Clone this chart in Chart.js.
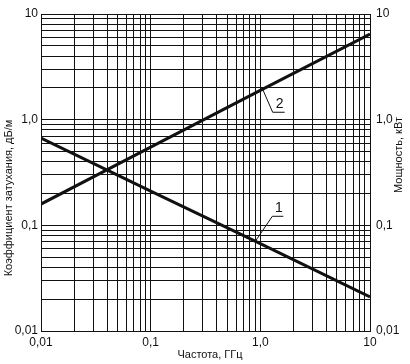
<!DOCTYPE html>
<html>
<head>
<meta charset="utf-8">
<script src="https://cdn.jsdelivr.net/npm/chart.js@4/dist/chart.umd.min.js"></script>
<style>
  html, body { margin: 0; padding: 0; background: #fff; }
  canvas { display: block; }
</style>
</head>
<body>
<canvas id="chart" width="410" height="364"></canvas>
<script>
// frequency, GHz
const freq = [0.01, 0.1, 1, 10];
// curve 1: attenuation, dB/m (left axis)
const attenuation = [0.67, 0.211, 0.067, 0.021];
// curve 2: power, kW (right axis)
const power = [0.159, 0.55, 1.89, 6.47];

const decades = [0.01, 0.1, 1, 10];
const xTickLabels = ['0,01', '0,1', '1,0', '10'];
const yTickLabels = ['0,01', '0,1', '1,0', '10'];

const xTitle = 'Частота, ГГц';
const yTitle = 'Коэффициент затухания, дБ/м';
const y2Title = 'Мощность, кВт';

const INK = '#111';
const FONT = 'Liberation Sans, Arial, sans-serif';

// all 1..9 x 10^n values, for the log grid
function logGrid(min, max) {
  const out = [];
  for (let e = Math.log10(min); e < Math.log10(max); e++) {
    for (let m = 1; m < 10; m++) out.push(m * Math.pow(10, e));
  }
  out.push(max);
  return out;
}

function labelFor(v, labels) {
  const i = decades.findIndex((d) => Math.abs(d - v) / d < 1e-6);
  return i >= 0 ? labels[i] : '';
}

// value on a straight log-log line at frequency f
function lineValue(series, f) {
  for (let i = 0; i < freq.length - 1; i++) {
    if (f >= freq[i] && f <= freq[i + 1]) {
      const t = (Math.log10(f) - Math.log10(freq[i])) / (Math.log10(freq[i + 1]) - Math.log10(freq[i]));
      return Math.pow(10, Math.log10(series[i]) + t * (Math.log10(series[i + 1]) - Math.log10(series[i])));
    }
  }
  return series[series.length - 1];
}

const curveMarks = [
  { text: '2', series: power, axis: 'y2', at: 1.05, dx: 10, dy: 23, under: 12 },
  { text: '1', series: attenuation, axis: 'y', at: 0.9, dx: 17, dy: -25, under: 11 },
];

const annotations = {
  id: 'annotations',
  afterDatasetsDraw(chart) {
    const { ctx, scales } = chart;
    ctx.save();
    ctx.strokeStyle = INK;
    ctx.fillStyle = INK;
    ctx.lineWidth = 1;
    ctx.font = '14px ' + FONT;
    ctx.textAlign = 'center';
    ctx.textBaseline = 'bottom';
    curveMarks.forEach((m) => {
      const px = scales.x.getPixelForValue(m.at);
      const py = scales[m.axis].getPixelForValue(lineValue(m.series, m.at));
      const ex = px + m.dx;
      const ey = py + m.dy;
      ctx.beginPath();
      ctx.moveTo(px, py);
      ctx.lineTo(ex, ey);
      ctx.lineTo(ex + m.under, ey);
      ctx.stroke();
      ctx.fillText(m.text, ex + m.under / 2 + 1, ey - 1);
    });

    ctx.font = '11px ' + FONT;
    ctx.textBaseline = 'middle';
    ctx.fillText(xTitle, 210, 355);

    ctx.save();
    ctx.translate(9, 198);
    ctx.rotate(-Math.PI / 2);
    ctx.fillText(yTitle, 0, 0);
    ctx.restore();

    ctx.save();
    ctx.translate(399, 155);
    ctx.rotate(-Math.PI / 2);
    ctx.fillText(y2Title, 0, 0);
    ctx.restore();
    ctx.restore();
  },
};

const tickFont = { family: FONT, size: 12 };

new Chart(document.getElementById('chart'), {
  type: 'line',
  data: {
    datasets: [
      {
        label: '1',
        data: freq.map((f, i) => ({ x: f, y: attenuation[i] })),
        yAxisID: 'y',
        borderColor: INK,
        borderWidth: 3,
        pointRadius: 0,
        tension: 0,
      },
      {
        label: '2',
        data: freq.map((f, i) => ({ x: f, y: power[i] })),
        yAxisID: 'y2',
        borderColor: INK,
        borderWidth: 3,
        pointRadius: 0,
        tension: 0,
      },
    ],
  },
  options: {
    responsive: false,
    animation: false,
    devicePixelRatio: 1,
    layout: { padding: { top: 14, left: 0, right: 0, bottom: 0 } },
    plugins: { legend: { display: false }, tooltip: { enabled: false } },
    scales: {
      x: {
        type: 'logarithmic',
        min: 0.01,
        max: 10,
        afterFit: (s) => { s.height = 33; },
        afterBuildTicks: (s) => { s.ticks = logGrid(0.01, 10).map((v) => ({ value: v })); },
        grid: { color: INK, lineWidth: 1, drawTicks: false },
        border: { color: INK, width: 1 },
        ticks: {
          autoSkip: false,
          maxRotation: 0,
          padding: 4,
          color: INK,
          font: tickFont,
          callback: (v) => labelFor(v, xTickLabels),
        },
      },
      y: {
        type: 'logarithmic',
        position: 'left',
        min: 0.01,
        max: 10,
        afterFit: (s) => { s.width = 41; },
        afterBuildTicks: (s) => { s.ticks = logGrid(0.01, 10).map((v) => ({ value: v })); },
        grid: { color: INK, lineWidth: 1, drawTicks: false },
        border: { color: INK, width: 1 },
        ticks: {
          autoSkip: false,
          padding: 3,
          color: INK,
          font: tickFont,
          callback: (v) => labelFor(v, yTickLabels),
        },
      },
      y2: {
        type: 'logarithmic',
        position: 'right',
        min: 0.01,
        max: 10,
        afterFit: (s) => { s.width = 40; },
        afterBuildTicks: (s) => { s.ticks = decades.map((v) => ({ value: v })); },
        grid: { display: false, drawTicks: false },
        border: { color: INK, width: 1 },
        ticks: {
          autoSkip: false,
          padding: 6,
          color: INK,
          font: tickFont,
          callback: (v) => labelFor(v, yTickLabels),
        },
      },
    },
  },
  plugins: [annotations],
});
</script>
</body>
</html>
